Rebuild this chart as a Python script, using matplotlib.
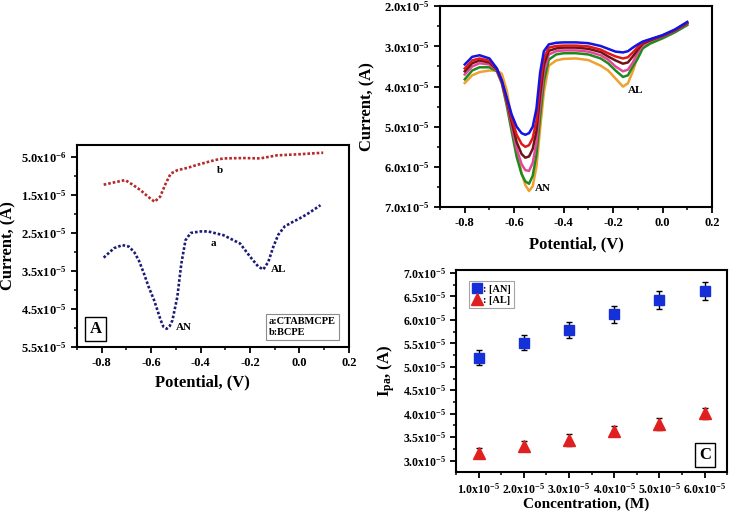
import math
import matplotlib
matplotlib.use("Agg")
import matplotlib.pyplot as plt
from matplotlib.ticker import FuncFormatter, AutoMinorLocator, FormatStrFormatter
from matplotlib.lines import Line2D

plt.rcParams["font.family"] = ["Liberation Serif", "DejaVu Serif"]
plt.rcParams["font.weight"] = "bold"
plt.rcParams["axes.labelweight"] = "bold"
plt.rcParams["mathtext.fontset"] = "custom"
plt.rcParams["mathtext.rm"] = "Liberation Serif:bold"
plt.rcParams["mathtext.bf"] = "Liberation Serif:bold"
plt.rcParams["mathtext.it"] = "Liberation Serif:bold:italic"
plt.rcParams["mathtext.default"] = "bf"

# ---- panel A: CTABMCPE (a) vs BCPE (b), current in 1e-5 A ----
a_pot = [-0.792, -0.75, -0.716, -0.69, -0.669, -0.65, -0.629, -0.61, -0.588, -0.561,
         -0.55, -0.537, -0.525, -0.514, -0.494, -0.478, -0.461, -0.44, -0.40, -0.37,
         -0.307, -0.24, -0.199, -0.166, -0.146, -0.126, -0.106, -0.086, -0.06, -0.03,
         0.0, 0.03, 0.06, 0.085]
a_cur = [3.15, 2.90, 2.82, 2.86, 3.0, 3.22, 3.57, 3.92, 4.27, 4.8,
         4.97, 5.02, 4.95, 4.8, 4.18, 3.31, 2.69, 2.5, 2.46, 2.46,
         2.56, 2.78, 3.13, 3.39, 3.46, 3.26, 2.87, 2.55, 2.33, 2.22,
         2.12, 2.01, 1.88, 1.77]
b_pot = [-0.792, -0.749, -0.705, -0.675, -0.642, -0.612, -0.586, -0.564, -0.541, -0.521,
         -0.494, -0.454, -0.414, -0.374, -0.34, -0.307, -0.226, -0.159, -0.092, 0.0, 0.096]
b_cur = [1.23, 1.17, 1.11, 1.23, 1.38, 1.55, 1.68, 1.55, 1.2, 0.94,
         0.85, 0.79, 0.71, 0.64, 0.58, 0.54, 0.53, 0.54, 0.46, 0.43, 0.39]
a_yticks = [0.5, 1.5, 2.5, 3.5, 4.5, 5.5]

# ---- panel B: six concentrations, current in 1e-5 A ----
pot_b = [-0.80, -0.77, -0.74, -0.70, -0.67, -0.65, -0.63, -0.61, -0.59, -0.57, -0.555, -0.54,
         -0.525, -0.51, -0.495, -0.48, -0.46, -0.43, -0.40, -0.35, -0.30, -0.25, -0.22, -0.19,
         -0.16, -0.14, -0.12, -0.10, -0.08, -0.05, 0.00, 0.05, 0.10]
cur_blue = [3.45, 3.26, 3.22, 3.30, 3.55, 3.85, 4.28, 4.70, 5.00, 5.16, 5.20, 5.16,
            5.00, 4.55, 3.65, 3.12, 2.95, 2.91, 2.90, 2.90, 2.92, 2.99, 3.06, 3.13,
            3.15, 3.12, 3.03, 2.95, 2.88, 2.82, 2.72, 2.58, 2.39]
cur_red = [3.55, 3.35, 3.30, 3.36, 3.56, 3.86, 4.32, 4.80, 5.20, 5.43, 5.50, 5.46,
           5.28, 4.85, 3.95, 3.30, 3.03, 2.99, 2.98, 2.98, 3.00, 3.08, 3.17, 3.25,
           3.30, 3.27, 3.15, 3.02, 2.90, 2.83, 2.73, 2.59, 2.41]
cur_maroon = [3.62, 3.42, 3.35, 3.40, 3.58, 3.88, 4.36, 4.88, 5.38, 5.68, 5.77, 5.74,
              5.55, 5.10, 4.20, 3.47, 3.11, 3.05, 3.03, 3.03, 3.06, 3.14, 3.25, 3.35,
              3.43, 3.40, 3.25, 3.08, 2.93, 2.85, 2.74, 2.60, 2.42]
cur_pink = [3.70, 3.50, 3.42, 3.45, 3.60, 3.90, 4.40, 4.98, 5.55, 5.93, 6.08, 6.10,
            5.90, 5.40, 4.45, 3.65, 3.20, 3.12, 3.10, 3.10, 3.13, 3.22, 3.33, 3.50,
            3.62, 3.58, 3.40, 3.15, 2.97, 2.86, 2.75, 2.61, 2.43]
cur_green = [3.82, 3.60, 3.52, 3.52, 3.62, 3.92, 4.48, 5.12, 5.75, 6.18, 6.36, 6.42,
             6.22, 5.70, 4.75, 3.88, 3.33, 3.20, 3.17, 3.17, 3.20, 3.30, 3.42, 3.60,
             3.76, 3.72, 3.50, 3.30, 3.05, 2.93, 2.80, 2.65, 2.47]
cur_orange = [3.91, 3.72, 3.64, 3.60, 3.60, 3.68, 4.10, 4.80, 5.55, 6.15, 6.45, 6.60,
              6.48, 6.00, 5.05, 4.15, 3.48, 3.35, 3.31, 3.30, 3.34, 3.48, 3.60, 3.80,
              4.00, 3.92, 3.62, 3.25, 3.00, 2.90, 2.77, 2.62, 2.45]
b_curves = [cur_orange, cur_green, cur_pink, cur_maroon, cur_red, cur_blue]
b_colors = ["#f0a030", "#1e8a1e", "#e2479c", "#6e1414", "#e01818", "#1414e0"]

# ---- panel C: peak current vs concentration (1e-5 units) ----
conc = [1.0, 2.0, 3.0, 4.0, 5.0, 6.0]
ipa_an = [5.19, 5.51, 5.79, 6.12, 6.43, 6.62]
err_an = [0.16, 0.16, 0.17, 0.18, 0.19, 0.19]
ipa_al = [3.16, 3.31, 3.44, 3.63, 3.78, 4.01]
err_al = [0.11, 0.11, 0.12, 0.11, 0.12, 0.12]

SCALE = 1e-5


def sci_fmt(v, pos):
    if v <= 0:
        return ""
    e = int(math.floor(math.log10(v) + 1e-9))
    m = v / 10 ** e
    return f"{m:.1f}x10$^{{{e}}}$"


def style_axes(ax, tick_size=9):
    for sp in ax.spines.values():
        sp.set_linewidth(1.5)
    ax.tick_params(which="major", direction="out", length=4, width=1.3, labelsize=tick_size)
    ax.tick_params(which="minor", direction="out", length=2.5, width=1.1)
    ax.xaxis.set_minor_locator(AutoMinorLocator(2))
    ax.yaxis.set_minor_locator(AutoMinorLocator(2))


fig = plt.figure(figsize=(7.29, 5.19), dpi=100)

# Panel A
axA = fig.add_axes([0.1056, 0.3314, 0.373, 0.389])
dots = (0, (1, 0.75))
axA.plot(b_pot, [c * SCALE for c in b_cur], color="#b52a2a", lw=1.9, linestyle=dots)
axA.plot(a_pot, [c * SCALE for c in a_cur], color="#1c1c78", lw=1.9, linestyle=dots)
axA.set_xlim(-0.9, 0.2)
axA.set_ylim(5.5e-5, 0.19e-5)
axA.set_yticks([t * SCALE for t in a_yticks])
axA.set_xticks([-0.8, -0.6, -0.4, -0.2, 0.0, 0.2])
axA.yaxis.set_major_formatter(FuncFormatter(sci_fmt))
axA.xaxis.set_major_formatter(FormatStrFormatter("%.1f"))
style_axes(axA)
axA.set_xlabel("Potential, (V)", fontsize=12)
axA.set_ylabel("Current, (A)", fontsize=12)
axA.xaxis.set_label_coords(0.46, -0.135)
axA.yaxis.set_label_coords(-0.222, 0.5)
axA.text(-0.323, 0.85e-5, "b", fontsize=8, ha="center", va="center")
axA.text(-0.347, 2.78e-5, "a", fontsize=8, ha="center", va="center")
axA.text(-0.086, 3.46e-5, "AL", fontsize=8, ha="center", va="center")
axA.text(-0.467, 4.99e-5, "AN", fontsize=8, ha="center", va="center")
axA.text(0.068, 0.09, "A", transform=axA.transAxes, fontsize=12, ha="center", va="center",
         bbox=dict(boxstyle="square,pad=0.25", fc="white", ec="black", lw=1))
axA.text(0.705, 0.05, "a:CTABMCPE\nb:BCPE", transform=axA.transAxes, fontsize=7.5,
         ha="left", va="bottom", linespacing=1.3,
         bbox=dict(boxstyle="square,pad=0.3", fc="white", ec="0.55", lw=0.8))

# Panel B
axB = fig.add_axes([0.6036, 0.601, 0.373, 0.387])
for cur, col in zip(b_curves, b_colors):
    axB.plot(pot_b, [c * SCALE for c in cur], color=col, lw=1.8)
axB.set_xlim(-0.9, 0.2)
axB.set_ylim(7.0e-5, 2.0e-5)
axB.set_yticks([2e-5, 3e-5, 4e-5, 5e-5, 6e-5, 7e-5])
axB.set_xticks([-0.8, -0.6, -0.4, -0.2, 0.0, 0.2])
axB.yaxis.set_major_formatter(FuncFormatter(sci_fmt))
axB.xaxis.set_major_formatter(FormatStrFormatter("%.1f"))
style_axes(axB)
axB.set_xlabel("Potential, (V)", fontsize=12)
axB.set_ylabel("Current, (A)", fontsize=12)
axB.xaxis.set_label_coords(0.5, -0.145)
axB.yaxis.set_label_coords(-0.239, 0.5)
axB.text(-0.482, 6.53e-5, "AN", fontsize=8, ha="center", va="center")
axB.text(-0.110, 4.11e-5, "AL", fontsize=8, ha="center", va="center")

# Panel C
axC = fig.add_axes([0.6255, 0.0906, 0.372, 0.389])
axC.errorbar([c * SCALE for c in conc], [v * SCALE for v in ipa_an], yerr=[e * SCALE for e in err_an],
             fmt="s", color="#1530d8", ms=7, ecolor="black", elinewidth=1, capsize=2, capthick=1)
axC.errorbar([c * SCALE for c in conc], [v * SCALE for v in ipa_al], yerr=[e * SCALE for e in err_al],
             fmt="^", color="#e02020", ms=8, ecolor="black", elinewidth=1, capsize=2, capthick=1)
axC.set_xlim(0.5e-5, 6.5e-5)
axC.set_ylim(2.76e-5, 7.06e-5)
axC.set_xticks([c * SCALE for c in conc])
axC.set_yticks([3e-5, 3.5e-5, 4e-5, 4.5e-5, 5e-5, 5.5e-5, 6e-5, 6.5e-5, 7e-5])
axC.xaxis.set_major_formatter(FuncFormatter(sci_fmt))
axC.yaxis.set_major_formatter(FuncFormatter(sci_fmt))
style_axes(axC, tick_size=8.5)
axC.set_xlabel("Concentration, (M)", fontsize=11)
axC.set_ylabel("I$_{pa}$, (A)", fontsize=12)
axC.xaxis.set_label_coords(0.48, -0.125)
axC.yaxis.set_label_coords(-0.218, 0.5)
handles = [Line2D([], [], marker="s", color="#1530d8", ls="none", ms=7),
           Line2D([], [], marker="^", color="#e02020", ls="none", ms=8)]
leg = axC.legend(handles, [": [AN]", ": [AL]"], loc="upper left", fontsize=7.5,
                 handlelength=0.8, handletextpad=0.2, borderpad=0.3, labelspacing=0.2,
                 fancybox=False, edgecolor="0.55", bbox_to_anchor=(0.03, 0.97))
leg.get_frame().set_linewidth(0.8)
axC.text(0.918, 0.085, "C", transform=axC.transAxes, fontsize=12, ha="center", va="center",
         bbox=dict(boxstyle="square,pad=0.25", fc="white", ec="black", lw=1))

fig.savefig("out.png", dpi=100)
